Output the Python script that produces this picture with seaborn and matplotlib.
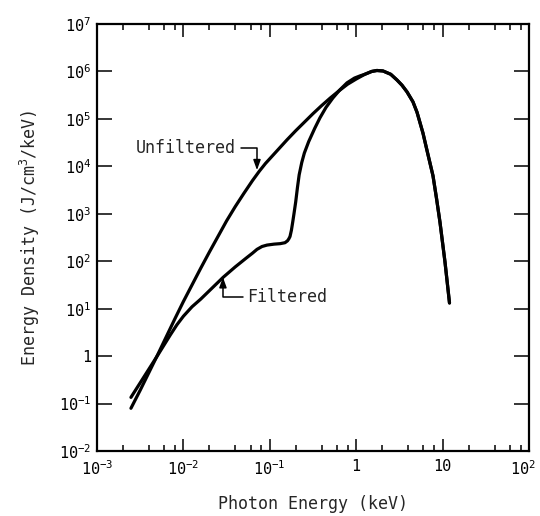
import matplotlib
matplotlib.use('Agg')
import matplotlib.pyplot as plt
import matplotlib.ticker as mticker
import matplotlib.transforms as mtransforms
import seaborn as sns
import numpy as np
import pandas as pd

# Spectrum, as log10 values
# x = log10(photon energy / keV), y = log10(energy density / J cm^-3 keV^-1)
unf_logx = [-2.607, -2.50, -2.40, -2.30, -2.20, -2.10, -2.00, -1.90, -1.80, -1.70,
            -1.60, -1.50, -1.40, -1.30, -1.20, -1.12, -1.05, -1.00, -0.90, -0.80,
            -0.70, -0.60, -0.50, -0.40, -0.30, -0.20, -0.10, 0.00, 0.10, 0.18,
            0.24, 0.31, 0.40, 0.472, 0.53, 0.588, 0.657, 0.704, 0.773, 0.819,
            0.889, 0.93, 0.97, 1.028, 1.08]
unf_logy = [-1.10, -0.72, -0.35, 0.02, 0.40, 0.78, 1.15, 1.50, 1.85, 2.19,
            2.52, 2.85, 3.15, 3.43, 3.70, 3.90, 4.06, 4.16, 4.36, 4.56,
            4.75, 4.93, 5.11, 5.28, 5.44, 5.59, 5.73, 5.84, 5.94, 6.00,
            6.02, 6.01, 5.94, 5.82, 5.71, 5.57, 5.36, 5.14, 4.70, 4.34,
            3.80, 3.32, 2.82, 1.98, 1.12]

fil_logx = [-2.607, -2.45, -2.30, -2.15, -2.075, -2.00, -1.90, -1.80, -1.67, -1.54,
            -1.40, -1.27, -1.20, -1.148, -1.09, -1.032, -0.95, -0.88, -0.824, -0.795,
            -0.78, -0.766, -0.75, -0.735, -0.72, -0.70, -0.68, -0.66, -0.63, -0.60,
            -0.55, -0.48, -0.42, -0.35, -0.27, -0.19, -0.106, -0.02, 0.05, 0.10,
            0.18, 0.24, 0.31, 0.40, 0.472, 0.53, 0.588, 0.657, 0.704, 0.773,
            0.819, 0.889, 0.93, 0.97, 1.028, 1.08]
fil_logy = [-0.87, -0.42, 0.01, 0.45, 0.66, 0.84, 1.04, 1.20, 1.43, 1.66,
            1.88, 2.07, 2.17, 2.25, 2.31, 2.34, 2.36, 2.37, 2.39, 2.43,
            2.47, 2.52, 2.65, 2.82, 3.00, 3.25, 3.55, 3.82, 4.08, 4.28,
            4.52, 4.80, 5.02, 5.24, 5.44, 5.61, 5.76, 5.86, 5.91, 5.94,
            6.00, 6.02, 6.01, 5.94, 5.82, 5.71, 5.57, 5.36, 5.14, 4.70,
            4.34, 3.80, 3.32, 2.82, 1.98, 1.12]

x_ticks = [1e-3, 1e-2, 1e-1, 1, 10, 1e2]
x_labels = [r'$\mathregular{10^{-3}}$', r'$\mathregular{10^{-2}}$', r'$\mathregular{10^{-1}}$',
            '1', '10', r'$\mathregular{10^{2}}$']
y_ticks = [1e-2, 1e-1, 1, 10, 1e2, 1e3, 1e4, 1e5, 1e6, 1e7]
y_labels = [r'$\mathregular{10^{-2}}$', r'$\mathregular{10^{-1}}$', '1',
            r'$\mathregular{10^{1}}$', r'$\mathregular{10^{2}}$', r'$\mathregular{10^{3}}$',
            r'$\mathregular{10^{4}}$', r'$\mathregular{10^{5}}$', r'$\mathregular{10^{6}}$',
            r'$\mathregular{10^{7}}$']

df = pd.concat([
    pd.DataFrame({'energy': np.power(10.0, unf_logx), 'density': np.power(10.0, unf_logy),
                  'curve': 'Unfiltered'}),
    pd.DataFrame({'energy': np.power(10.0, fil_logx), 'density': np.power(10.0, fil_logy),
                  'curve': 'Filtered'}),
], ignore_index=True)

sns.set_style('ticks')
plt.rcParams['font.family'] = ['DejaVu Sans Mono', 'DejaVu Sans']

fig = plt.figure(figsize=(5.4, 5.16), dpi=100)
ax = fig.add_axes([0.1796, 0.126, 0.80, 0.8275])

sns.lineplot(data=df, x='energy', y='density', hue='curve', units='curve',
             estimator=None, sort=False, palette=['black', 'black'],
             linewidth=2.3, legend=False, ax=ax)

ax.set_xscale('log')
ax.set_yscale('log')
ax.set_xlim(1e-3, 1e2)
ax.set_ylim(1e-2, 1e7)

ax.xaxis.set_major_locator(mticker.FixedLocator(x_ticks))
ax.xaxis.set_major_formatter(mticker.FixedFormatter(x_labels))
ax.xaxis.set_minor_locator(mticker.LogLocator(base=10, subs=[2, 4, 6, 8], numticks=20))
ax.xaxis.set_minor_formatter(mticker.NullFormatter())
ax.yaxis.set_major_locator(mticker.FixedLocator(y_ticks))
ax.yaxis.set_major_formatter(mticker.FixedFormatter(y_labels))
ax.yaxis.set_minor_locator(mticker.NullLocator())

ax.tick_params(axis='both', which='both', direction='in', top=True, right=True,
               colors='black', labelsize=11)
ax.tick_params(axis='x', which='major', length=9, width=1.1, pad=6)
ax.tick_params(axis='x', which='minor', length=4.5, width=1.1)
ax.tick_params(axis='y', which='major', length=10.5, width=1.1, pad=4)
for s in ax.spines.values():
    s.set_linewidth(1.6)
    s.set_color('black')

# last x label sits at the figure edge: nudge it left a little
shift = mtransforms.ScaledTranslation(-4 / 72, 0, fig.dpi_scale_trans)
last = ax.get_xticklabels()[-1]
last.set_transform(last.get_transform() + shift)

ax.set_xlabel('Photon Energy (keV)', fontsize=12, labelpad=12)
ax.set_ylabel(r'Energy Density (J/cm$\mathregular{^3}$/keV)', fontsize=12, labelpad=12)

arrow = dict(arrowstyle='-|>,head_length=0.5,head_width=0.18', color='black', lw=1.1,
             connectionstyle='angle,angleA=0,angleB=90,rad=0', shrinkA=1, shrinkB=0)
ax.annotate('Unfiltered', xy=(0.0711, 8300), xytext=(0.0405, 24000),
            ha='right', va='center', fontsize=12, arrowprops=arrow)
ax.annotate('Filtered', xy=(0.0287, 46), xytext=(0.055, 17.4),
            ha='left', va='center', fontsize=12, arrowprops=arrow)

plt.savefig('out.png', dpi=100)
plt.close()
